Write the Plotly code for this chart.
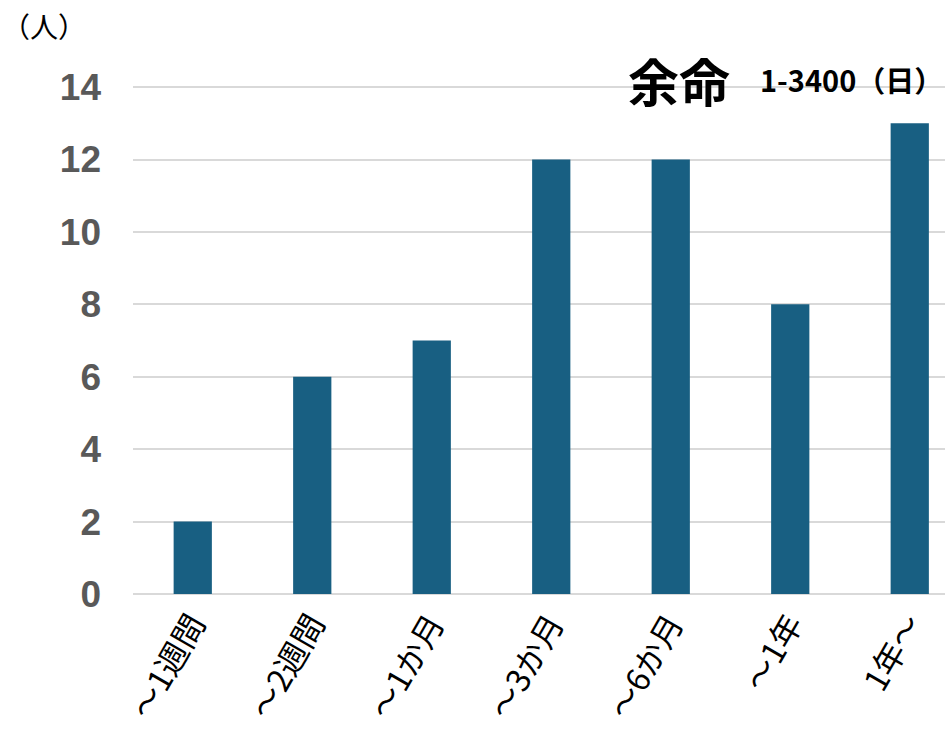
import plotly.graph_objects as go

categories = ["～1週間", "～2週間", "～1か月", "～3か月", "～6か月", "～1年", "1年～"]
counts = [2, 6, 7, 12, 12, 8, 13]
y_ticks = [0, 2, 4, 6, 8, 10, 12, 14]

fig = go.Figure(go.Bar(
    x=categories, y=counts,
    marker=dict(color="#185F82", line=dict(width=0)),
    width=0.32,
))

fig.update_layout(
    width=945, height=731,
    margin=dict(l=133, r=0, t=86, b=137),
    paper_bgcolor="white", plot_bgcolor="white",
    showlegend=False,
    xaxis=dict(
        range=[-0.5, 6.295],
        tickangle=-60,
        tickfont=dict(family="Noto Sans CJK JP", size=32, color="black"),
        showgrid=False, zeroline=False, showline=False, ticks="",
        ticklabelstandoff=4, automargin=False,
    ),
    yaxis=dict(
        range=[0, 14.03], tickvals=y_ticks,
        tickfont=dict(family="Liberation Sans, Arial", size=37, color="#595959", weight="bold"),
        showgrid=True, gridcolor="#D9D9D9", gridwidth=1.5,
        zeroline=True, zerolinecolor="#D9D9D9", zerolinewidth=1.5,
        showline=False, ticks="", ticklabelstandoff=31, automargin=False,
    ),
    annotations=[
        dict(text="（人）", xref="paper", yref="paper", x=-133/812, y=(594-26)/508,
             xanchor="left", yanchor="middle", showarrow=False,
             font=dict(family="Noto Sans CJK JP", size=28, color="black")),
        dict(text="<b>余命</b>", xref="paper", yref="paper", x=(626-133)/812, y=(594-80)/508,
             xanchor="left", yanchor="middle", showarrow=False,
             font=dict(family="Noto Sans CJK JP", size=51, color="black")),
        dict(text="1-3400（日）", xref="paper", yref="paper", x=(758-133)/812, y=(594-79)/508,
             xanchor="left", yanchor="middle", showarrow=False,
             font=dict(family="Noto Sans CJK JP", size=29, color="black", weight="bold")),
    ],
)

fig.write_html("out.html")
